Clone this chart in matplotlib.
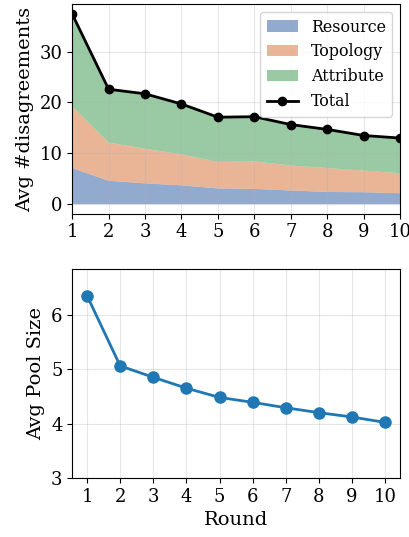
import matplotlib

matplotlib.use("Agg")
import matplotlib.pyplot as plt
import numpy as np

plt.rcParams["font.family"] = ["DejaVu Serif"]

rounds = np.arange(1, 11)
resource = [7.1, 4.6, 4.1, 3.7, 3.1, 3.0, 2.7, 2.4, 2.35, 2.15]
topology = [12.1, 7.5, 6.8, 6.1, 5.2, 5.4, 4.9, 4.7, 4.25, 3.95]
attribute = [18.2, 10.5, 10.8, 9.9, 8.8, 8.8, 8.05, 7.6, 6.9, 6.9]
total = [37.4, 22.6, 21.7, 19.7, 17.1, 17.2, 15.65, 14.7, 13.5, 13.0]
pool_size = [6.35, 5.06, 4.85, 4.65, 4.48, 4.39, 4.29, 4.2, 4.12, 4.02]

fig, (ax1, ax2) = plt.subplots(2, 1, figsize=(4.1, 5.37), dpi=100)
fig.subplots_adjust(left=0.176, right=0.976, top=0.992, bottom=0.11, hspace=0.262)

ax1.stackplot(rounds, resource, topology, attribute,
              labels=["Resource", "Topology", "Attribute"],
              colors=["#4C72B0", "#DD8452", "#55A868"], alpha=0.6, linewidth=1)
ax1.plot(rounds, total, color="black", marker="o", markersize=6, linewidth=2, label="Total")
ax1.set_xlim(1, 10)
ax1.set_ylim(-1.87, 39.3)
ax1.set_xticks(rounds)
ax1.set_yticks([0, 10, 20, 30])
ax1.set_ylabel("Avg #disagreements", fontsize=14)
ax1.tick_params(labelsize=13)
ax1.grid(True, alpha=0.3)
ax1.legend(loc="upper right", fontsize=11.4, framealpha=0.8)

ax2.plot(rounds, pool_size, color="#1f77b4", marker="o", markersize=8, linewidth=2)
ax2.set_ylim(3, 6.85)
ax2.set_xticks(rounds)
ax2.set_yticks([3, 4, 5, 6])
ax2.set_xlabel("Round", fontsize=14)
ax2.set_ylabel("Avg Pool Size", fontsize=14)
ax2.tick_params(labelsize=13)
ax2.grid(True, alpha=0.3)

fig.savefig("out.png", dpi=100)
